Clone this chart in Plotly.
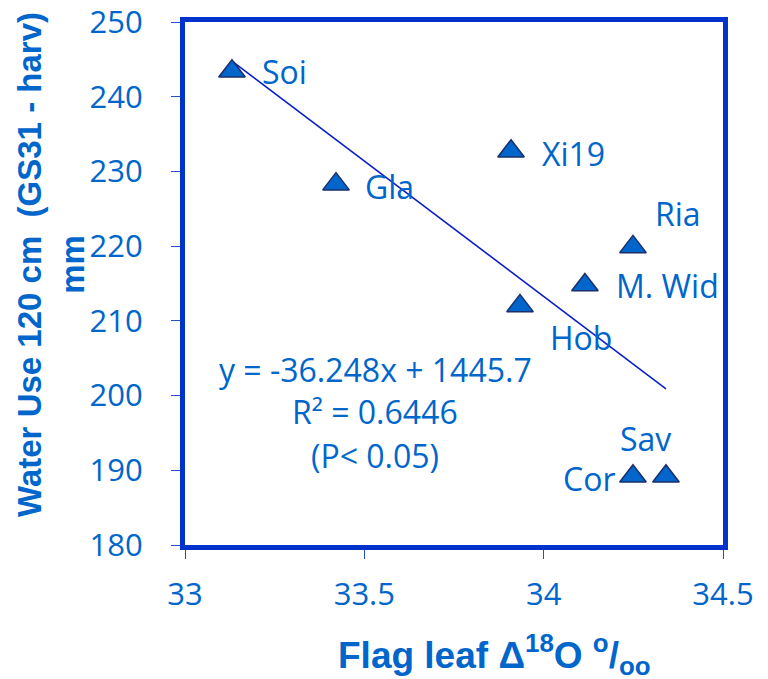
import plotly.graph_objects as go

names = ["Soi", "Gla", "Xi19", "Ria", "M. Wid", "Hob", "Cor", "Sav"]
x_vals = [33.131, 33.421, 33.909, 34.249, 34.115, 33.934, 34.249, 34.341]
y_vals = [243.4, 228.3, 232.7, 219.9, 214.8, 212.0, 189.2, 189.2]
slope = -36.248
intercept = 1445.7
x_ticks = [33, 33.5, 34, 34.5]
x_tick_text = ["33", "33.5", "34", "34.5"]
y_ticks = [180, 190, 200, 210, 220, 230, 240, 250]

# label offsets (pixels) and anchors
label_pos = {
    "Soi": (28, 0, "left"),
    "Gla": (27, -2, "left"),
    "Xi19": (29, -2, "left"),
    "Ria": (20, 33, "left"),
    "M. Wid": (29, -1, "left"),
    "Hob": (28, -32, "left"),
    "Cor": (-16, -2, "right"),
    "Sav": (-20, 38, "center"),
}

BLUE_TXT = "#0066CC"
BORDER = "#0033CC"
FONT = "Open Sans"
W, H = 768, 679
L, R, T, B = 185, 45, 22, 134
PW, PH = W - L - R, H - T - B


def px(xp):
    return (xp - L) / PW


def py(yp):
    return (T + PH - yp) / PH


fig = go.Figure()

xmin, xmax = min(x_vals), max(x_vals)
fig.add_trace(go.Scatter(
    x=[xmin, xmax], y=[slope * xmin + intercept, slope * xmax + intercept],
    mode="lines", line=dict(color="#0A1FC8", width=1.6), showlegend=False, hoverinfo="skip"))

fig.add_trace(go.Scatter(
    x=x_vals, y=y_vals, mode="markers",
    marker=dict(symbol="triangle-up", size=23, color="#0066CC",
                line=dict(color="#1A2F6B", width=1.5)),
    showlegend=False))

for n, xv, yv in zip(names, x_vals, y_vals):
    dx, dy, anc = label_pos[n]
    fig.add_annotation(x=xv, y=yv, text=n, showarrow=False, xanchor=anc, yanchor="middle",
                       xshift=dx, yshift=dy, font=dict(family=FONT, size=32, color=BLUE_TXT))

eq_lines = ["y = -36.248x + 1445.7", "R² = 0.6446", "(P< 0.05)"]
eq_y = [369, 411, 455]
for t, yy in zip(eq_lines, eq_y):
    fig.add_annotation(xref="paper", yref="paper", x=px(375), y=py(yy),
                       text=t, showarrow=False, xanchor="center", yanchor="middle",
                       font=dict(family=FONT, size=32, color=BLUE_TXT))

# axis titles
fig.add_annotation(xref="paper", yref="paper", x=px(494), y=py(654),
                   text="<b>Flag leaf Δ<sup>18</sup>O <sup>o</sup>/<sub>oo</sub></b>",
                   showarrow=False, xanchor="center", yanchor="middle",
                   font=dict(family="Liberation Sans, Arial", size=37, color=BLUE_TXT))
fig.add_annotation(xref="paper", yref="paper", x=px(51), y=py(265),
                   text="<b>Water Use 120 cm  (GS31 - harv)<br>mm</b>", textangle=-90,
                   showarrow=False, xanchor="center", yanchor="middle",
                   font=dict(family="Liberation Sans, Arial", size=33, color=BLUE_TXT))

fig.update_layout(
    width=W, height=H,
    margin=dict(l=L, r=R, t=T, b=B),
    paper_bgcolor="white", plot_bgcolor="white",
    xaxis=dict(range=[33, 34.5], tickvals=x_ticks, ticktext=x_tick_text,
               showgrid=False, zeroline=False, automargin=False,
               showline=True, linewidth=5, linecolor=BORDER, mirror=True,
               ticks="outside", ticklen=9, tickwidth=1.2, tickcolor="#2050D0",
               ticklabelstandoff=9, ticklabeloverflow="allow",
               tickfont=dict(family=FONT, size=31, color=BLUE_TXT)),
    yaxis=dict(range=[180, 250], tickvals=y_ticks,
               showgrid=False, zeroline=False, automargin=False,
               showline=True, linewidth=5, linecolor=BORDER, mirror=True,
               ticks="outside", ticklen=9, tickwidth=1.2, tickcolor="#2050D0",
               ticklabelstandoff=22, ticklabeloverflow="allow",
               tickfont=dict(family=FONT, size=31, color=BLUE_TXT)),
)

fig.write_html("out.html", config={"displayModeBar": False},
               post_script="document.body.style.margin='0';document.body.style.overflow='hidden';")
